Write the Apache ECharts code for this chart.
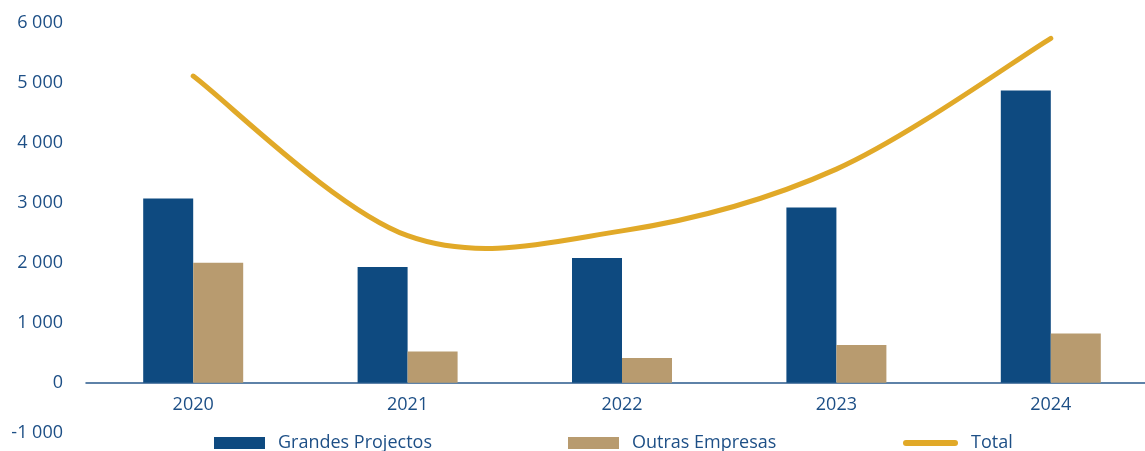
<!DOCTYPE html>
<html>
<head>
<meta charset="utf-8">
<script src="https://cdn.jsdelivr.net/npm/echarts@6/dist/echarts.min.js"></script>
<style>
html,body{margin:0;padding:0;background:#fff;}
#c{width:1145px;height:451px;}
</style>
</head>
<body>
<div id="c"></div>
<script>
const categories = ['2020', '2021', '2022', '2023', '2024'];
const grandesProjectos = [3070, 1930, 2080, 2920, 4870];
const outrasEmpresas = [2000, 520, 410, 630, 820];
const total = [5110, 2450, 2530, 3560, 5740];
const seriesNames = ['Grandes Projectos', 'Outras Empresas', 'Total'];

const textColor = '#1d4f86';
const font = 'Open Sans';
const lineColor = '#e1a928';

const chart = echarts.init(document.getElementById('c'), null, {renderer: 'canvas'});

function legendFor(name, left, icon, w, h) {
  return {
    data: [name],
    left: left,
    top: 434,
    itemWidth: w,
    itemHeight: h,
    icon: icon,
    selectedMode: false,
    padding: 0,
    textStyle: {color: textColor, fontFamily: font, fontSize: 18, padding: [0, 0, 0, 8]}
  };
}

// Smooth curve through the data points (Catmull-Rom style Bezier), positioned via api.coord
function renderTotal(params, api) {
  if (params.dataIndex !== 0) return null;
  const n = total.length;
  const pts = [];
  for (let i = 0; i < n; i++) pts.push(api.coord([i, total[i]]));
  const P = (i) => pts[Math.max(0, Math.min(n - 1, i))];
  let d = 'M' + pts[0][0] + ',' + pts[0][1];
  for (let i = 0; i < n - 1; i++) {
    const p0 = P(i - 1), p1 = P(i), p2 = P(i + 1), p3 = P(i + 2);
    const c1 = [p1[0] + (p2[0] - p0[0]) / 6, p1[1] + (p2[1] - p0[1]) / 6];
    const c2 = [p2[0] - (p3[0] - p1[0]) / 6, p2[1] - (p3[1] - p1[1]) / 6];
    d += ' C' + c1[0] + ',' + c1[1] + ' ' + c2[0] + ',' + c2[1] + ' ' + p2[0] + ',' + p2[1];
  }
  return {
    type: 'path',
    shape: {pathData: d},
    style: {fill: null, stroke: lineColor, lineWidth: 5, lineCap: 'round', lineJoin: 'round'}
  };
}

chart.setOption({
  animation: false,
  grid: {left: 86, right: -13, top: 22.7, bottom: 8.3, containLabel: false, outerBoundsMode: 'none'},
  legend: [
    legendFor(seriesNames[0], 214, 'rect', 51, 12),
    legendFor(seriesNames[1], 568, 'rect', 51, 12),
    legendFor(seriesNames[2], 903, 'path://M3,0H52A3,3 0 0 1 52,6H3A3,3 0 0 1 3,0Z', 55, 6)
  ],
  xAxis: [
    {
      type: 'category',
      data: categories,
      position: 'bottom',
      axisLine: {show: false, onZero: false},
      axisTick: {show: false},
      axisLabel: {color: textColor, fontFamily: font, fontSize: 18, margin: -47}
    },
    {
      type: 'category',
      data: categories,
      position: 'top',
      axisLine: {show: true, onZero: true, lineStyle: {color: '#2a5a8c', width: 1.5}},
      axisTick: {show: false},
      axisLabel: {show: false}
    }
  ],
  yAxis: {
    type: 'value',
    min: -1000,
    max: 6000,
    interval: 1000,
    axisLine: {show: false},
    axisTick: {show: false},
    splitLine: {show: false},
    axisLabel: {
      color: textColor, fontFamily: font, fontSize: 18, margin: 23,
      formatter: function (v) {
        const s = Math.abs(v) >= 1000 ? (v < 0 ? '-' : '') + Math.floor(Math.abs(v) / 1000) + ' 000' : String(v);
        return v < 0 ? '{low|' + s + '}' : s;
      },
      rich: {low: {color: textColor, fontFamily: font, fontSize: 18, padding: [0, 0, 19, 0]}}
    }
  },
  series: [
    {
      name: seriesNames[0], type: 'bar', data: grandesProjectos,
      barWidth: 50, barGap: '0%',
      itemStyle: {color: '#0e4a80'}
    },
    {
      name: seriesNames[1], type: 'bar', data: outrasEmpresas,
      barWidth: 50, barGap: '0%',
      itemStyle: {color: '#b89b6f'}
    },
    {
      name: seriesNames[2], type: 'custom', data: total.map((v, i) => [i, v]),
      renderItem: renderTotal,
      encode: {x: 0, y: 1},
      itemStyle: {color: lineColor},
      z: 3
    }
  ]
});
</script>
</body>
</html>
